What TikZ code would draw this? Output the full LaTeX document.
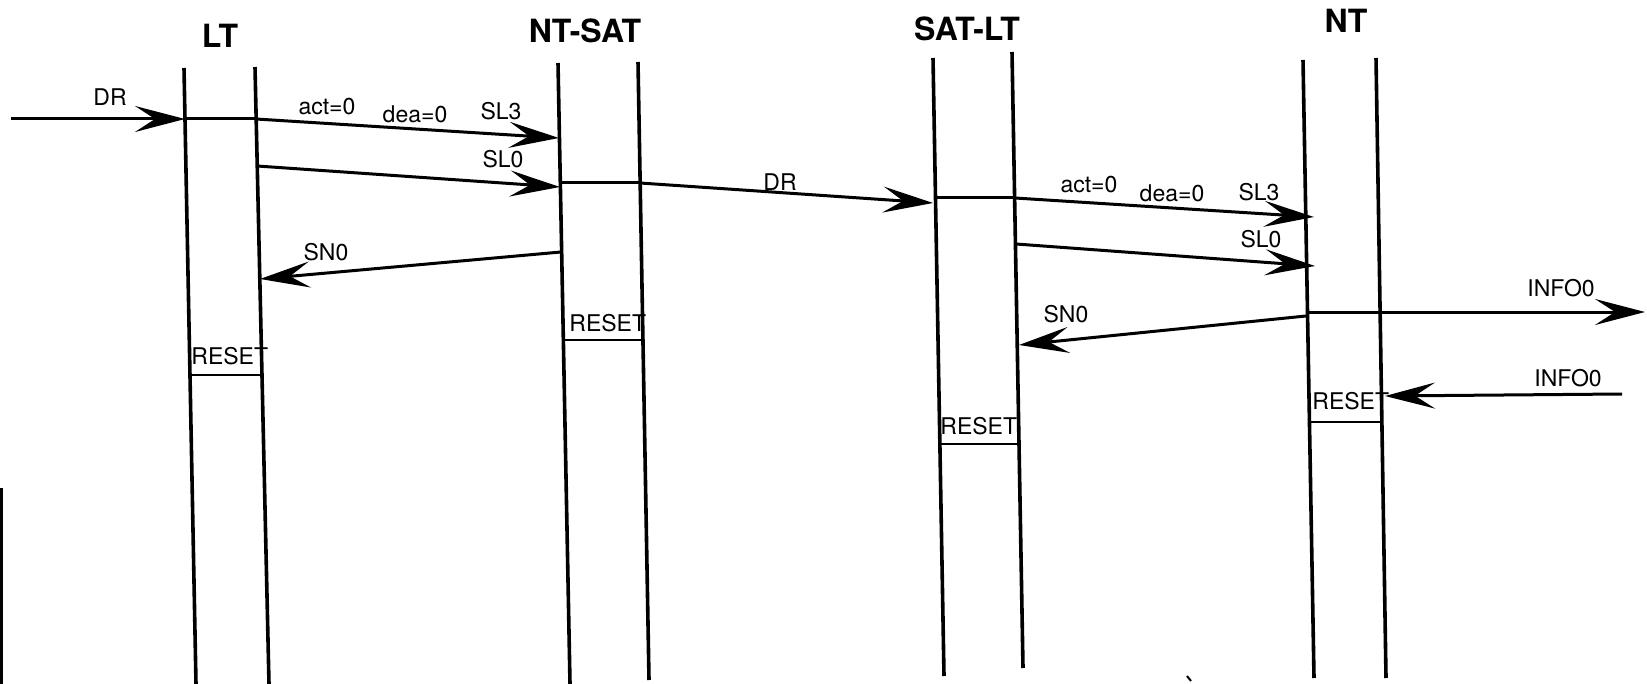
\documentclass[tikz,border=0pt]{standalone}
\usepackage{fontspec}
\setmainfont{TeX Gyre Heros}
\usetikzlibrary{arrows.meta}
\begin{document}
\begin{tikzpicture}[x=0.5pt,y=-0.5pt,
  lane/.style={line width=1.8pt},
  msg/.style={line width=1.5pt,-{Stealth[length=25pt,width=13pt,inset=10pt]}},
  seg/.style={line width=1.5pt},
  rst/.style={line width=1.3pt},
  lbl/.style={font=\fontsize{11.5}{13}\selectfont, inner sep=0pt, anchor=base},
  head/.style={font=\fontsize{16}{19}\selectfont\bfseries, inner sep=0pt, anchor=base},
  rtxt/.style={font=\fontsize{11.5}{13}\selectfont, inner sep=0pt, anchor=base west}]
\useasboundingbox (0,0) rectangle (1647,684);

% lifelines
\coordinate (LTLt) at (184,68);   \coordinate (LTLb) at (196,684);
\coordinate (LTRt) at (255,67);   \coordinate (LTRb) at (269,684);
\coordinate (NSLt) at (558,63);   \coordinate (NSLb) at (570,684);
\coordinate (NSRt) at (638,62);   \coordinate (NSRb) at (649,680);
\coordinate (SLLt) at (933,58);   \coordinate (SLLb) at (944,676);
\coordinate (SLRt) at (1012,52);  \coordinate (SLRb) at (1023,668);
\coordinate (NTLt) at (1303,60);  \coordinate (NTLb) at (1314,678);
\coordinate (NTRt) at (1376,58);  \coordinate (NTRb) at (1386,678);
\foreach \l in {LTL,LTR,NSL,NSR,SLL,SLR,NTL,NTR}
  \draw[lane] (\l t) -- (\l b);

% headers
\node[head] (hLT) at (220,48) {LT};
\node[head] (hNS) at (585,43) {NT-SAT};
\node[head] (hSL) at (967,41) {SAT-LT};
\node[head] (hNT) at (1346,33) {NT};

% message points
\coordinate (drin) at (11,119);
\coordinate (a1) at (185,119);  \coordinate (a2) at (256,119);  \coordinate (a3) at (559,138);
\coordinate (b1) at (257,166);  \coordinate (b2) at (560,187);
\coordinate (c1) at (560,183);  \coordinate (c2) at (640,183);  \coordinate (c3) at (933,203);
\coordinate (d1) at (935,198);  \coordinate (d2) at (1015,198); \coordinate (d3) at (1314,217);
\coordinate (e1) at (1016,244); \coordinate (e2) at (1315,266);
\coordinate (f1) at (561,252);  \coordinate (f2) at (260,279);
\coordinate (g1) at (1308,312); \coordinate (g2) at (1380,312); \coordinate (g3) at (1645,312);
\coordinate (h1) at (1306,316); \coordinate (h2) at (1019,345);
\coordinate (i1) at (1622,394); \coordinate (i2) at (1385,396);

% messages
\draw[msg] (drin) -- (a1);
\draw[seg] (a1) -- (a2);
\draw[msg] (a2) -- (a3);
\draw[msg] (b1) -- (b2);
\draw[seg] (c1) -- (c2);
\draw[msg] (c2) -- (c3);
\draw[seg] (d1) -- (d2);
\draw[msg] (d2) -- (d3);
\draw[msg] (e1) -- (e2);
\draw[msg] (f1) -- (f2);
\draw[seg] (g1) -- (g2);
\draw[msg] (g2) -- (g3);
\draw[msg] (h1) -- (h2);
\draw[msg] (i1) -- (i2);

% labels
\node[lbl] (lDR1) at (110,106) {DR};
\node[lbl] (lact1) at (327,115) {act=0};
\node[lbl] (ldea1) at (415,123) {dea=0};
\node[lbl] (lSL31) at (501,120) {SL3};
\node[lbl] (lSL01) at (503,168) {SL0};
\node[lbl] (lSN01) at (326,260) {SN0};
\node[lbl] (lDR2) at (780,191) {DR};
\node[lbl] (lact2) at (1089,193) {act=0};
\node[lbl] (ldea2) at (1172,202) {dea=0};
\node[lbl] (lSL32) at (1259,200) {SL3};
\node[lbl] (lSL02) at (1261,248) {SL0};
\node[lbl] (lINF1) at (1561,296) {INFO0};
\node[lbl] (lSN02) at (1066,322) {SN0};
\node[lbl] (lINF2) at (1568,386) {INFO0};

% RESET marks
\node[rtxt] (rLT) at (191,364) {RESET};
\coordinate (rLTa) at (190,375); \coordinate (rLTb) at (262,375);
\draw[rst] (rLTa) -- (rLTb);
\node[rtxt] (rNS) at (569,331) {RESET};
\coordinate (rNSa) at (563,340); \coordinate (rNSb) at (643,340);
\draw[rst] (rNSa) -- (rNSb);
\node[rtxt] (rSL) at (940,434) {RESET};
\coordinate (rSLa) at (940,444); \coordinate (rSLb) at (1019,444);
\draw[rst] (rSLa) -- (rSLb);
\node[rtxt] (rNT) at (1312,409) {RESET};
\coordinate (rNTa) at (1309,422); \coordinate (rNTb) at (1382,422);
\draw[rst] (rNTa) -- (rNTb);

% scan marks
\coordinate (edgeA) at (1.5,488); \coordinate (edgeB) at (1.5,684);
\draw[line width=1.5pt] (edgeA) -- (edgeB);
\coordinate (spA) at (1187,676); \coordinate (spB) at (1191,681);
\draw[line width=1pt] (spA) -- (spB);
\end{tikzpicture}
\end{document}
